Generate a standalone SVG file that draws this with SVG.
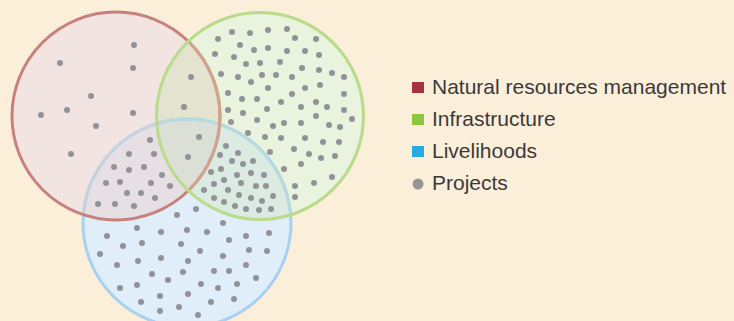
<svg xmlns="http://www.w3.org/2000/svg" width="734" height="321" viewBox="0 0 734 321">
<style>
.dot{fill:#929399}
.lbl{font-family:"Liberation Sans",Arial,sans-serif;font-size:21px;fill:#3a3a3a}
.ring{fill:none;stroke-width:3}
</style>
<defs>
<clipPath id="cR"><circle cx="116" cy="116" r="104"/></clipPath>
<clipPath id="cG"><circle cx="260" cy="116" r="103.5"/></clipPath>
<clipPath id="cB"><circle cx="187" cy="223" r="104"/></clipPath>
</defs>
<rect width="734" height="321" fill="#FBEFDA"/>
<g id="venn">
<g id="region-fills">
<circle cx="116" cy="116" r="104" fill="#F2E4E1"/>
<circle cx="260" cy="116" r="103.5" fill="#EAF3DE"/>
<circle cx="187" cy="223" r="104" fill="#E0EEF9"/>
<g clip-path="url(#cR)"><circle cx="260" cy="116" r="103.5" fill="#E3E3CF"/></g>
<g clip-path="url(#cR)"><circle cx="187" cy="223" r="104" fill="#E6E0E4"/></g>
<g clip-path="url(#cG)"><circle cx="187" cy="223" r="104" fill="#DBEBE1"/></g>
<g clip-path="url(#cR)"><g clip-path="url(#cG)"><circle cx="187" cy="223" r="104" fill="#DCDFD6"/></g></g>
</g>
<g id="livelihoods"><circle class="ring" cx="187" cy="223" r="104" stroke="#A7D1EE"/>
<g clip-path="url(#cR)"><circle class="ring" cx="187" cy="223" r="104" stroke="#C8D2DF"/></g>
<g clip-path="url(#cG)"><circle class="ring" cx="187" cy="223" r="104" stroke="#B5DADF"/></g>
</g>
<g id="natural-resources-management"><circle class="ring" cx="116" cy="116" r="104" stroke="#C6817C"/>
<g clip-path="url(#cG)"><circle class="ring" cx="116" cy="116" r="104" stroke="#CFA58E"/></g>
</g>
<g id="infrastructure"><circle class="ring" cx="260" cy="116" r="103.5" stroke="#BADB8C"/></g>
</g>
<g id="projects">
<circle class="dot" cx="134" cy="45" r="3"/><circle class="dot" cx="60" cy="63" r="3"/><circle class="dot" cx="133" cy="68" r="3"/><circle class="dot" cx="91" cy="96" r="3"/><circle class="dot" cx="67" cy="110" r="3"/><circle class="dot" cx="41" cy="115" r="3"/><circle class="dot" cx="133" cy="113" r="3"/><circle class="dot" cx="96" cy="126" r="3"/><circle class="dot" cx="71" cy="154" r="3"/>
<circle class="dot" cx="191" cy="77" r="3"/><circle class="dot" cx="184" cy="107" r="3"/><circle class="dot" cx="199" cy="137" r="3"/>
<circle class="dot" cx="150" cy="140" r="3"/><circle class="dot" cx="129" cy="154" r="3"/><circle class="dot" cx="154" cy="154" r="3"/><circle class="dot" cx="114" cy="167" r="3"/><circle class="dot" cx="129" cy="170" r="3"/><circle class="dot" cx="144" cy="167" r="3"/><circle class="dot" cx="162" cy="175" r="3"/><circle class="dot" cx="106" cy="183" r="3"/><circle class="dot" cx="120" cy="182" r="3"/><circle class="dot" cx="151" cy="183" r="3"/><circle class="dot" cx="170" cy="186" r="3"/><circle class="dot" cx="127" cy="193" r="3"/><circle class="dot" cx="141" cy="193" r="3"/><circle class="dot" cx="155" cy="198" r="3"/><circle class="dot" cx="98" cy="204" r="3"/><circle class="dot" cx="115" cy="204" r="3"/><circle class="dot" cx="134" cy="206" r="3"/>
<circle class="dot" cx="188" cy="157" r="3"/>
<circle class="dot" cx="218" cy="39" r="3"/><circle class="dot" cx="232" cy="32" r="3"/><circle class="dot" cx="250" cy="33" r="3"/><circle class="dot" cx="268" cy="30" r="3"/><circle class="dot" cx="287" cy="29" r="3"/><circle class="dot" cx="295" cy="38" r="3"/><circle class="dot" cx="316" cy="39" r="3"/>
<circle class="dot" cx="215" cy="54" r="3"/><circle class="dot" cx="234" cy="57" r="3"/><circle class="dot" cx="240" cy="45" r="3"/><circle class="dot" cx="254" cy="50" r="3"/><circle class="dot" cx="268" cy="48" r="3"/><circle class="dot" cx="287" cy="51" r="3"/><circle class="dot" cx="305" cy="51" r="3"/><circle class="dot" cx="319" cy="55" r="3"/>
<circle class="dot" cx="246" cy="64" r="3"/><circle class="dot" cx="260" cy="63" r="3"/><circle class="dot" cx="280" cy="62" r="3"/><circle class="dot" cx="302" cy="68" r="3"/><circle class="dot" cx="319" cy="70" r="3"/><circle class="dot" cx="332" cy="73" r="3"/><circle class="dot" cx="344" cy="77" r="3"/>
<circle class="dot" cx="221" cy="74" r="3"/><circle class="dot" cx="238" cy="77" r="3"/><circle class="dot" cx="251" cy="82" r="3"/><circle class="dot" cx="262" cy="75" r="3"/><circle class="dot" cx="276" cy="75" r="3"/><circle class="dot" cx="292" cy="77" r="3"/><circle class="dot" cx="320" cy="85" r="3"/>
<circle class="dot" cx="268" cy="88" r="3"/><circle class="dot" cx="305" cy="88" r="3"/>
<circle class="dot" cx="228" cy="93" r="3"/><circle class="dot" cx="242" cy="99" r="3"/><circle class="dot" cx="257" cy="99" r="3"/><circle class="dot" cx="292" cy="94" r="3"/><circle class="dot" cx="344" cy="94" r="3"/>
<circle class="dot" cx="281" cy="102" r="3"/><circle class="dot" cx="316" cy="102" r="3"/><circle class="dot" cx="327" cy="107" r="3"/><circle class="dot" cx="301" cy="107" r="3"/><circle class="dot" cx="267" cy="109" r="3"/><circle class="dot" cx="228" cy="110" r="3"/><circle class="dot" cx="243" cy="113" r="3"/><circle class="dot" cx="344" cy="110" r="3"/>
<circle class="dot" cx="316" cy="116" r="3"/><circle class="dot" cx="231" cy="122" r="3"/><circle class="dot" cx="257" cy="120" r="3"/><circle class="dot" cx="273" cy="126" r="3"/><circle class="dot" cx="284" cy="123" r="3"/><circle class="dot" cx="301" cy="123" r="3"/><circle class="dot" cx="329" cy="125" r="3"/><circle class="dot" cx="340" cy="127" r="3"/><circle class="dot" cx="352" cy="119" r="3"/>
<circle class="dot" cx="248" cy="133" r="3"/><circle class="dot" cx="265" cy="137" r="3"/><circle class="dot" cx="281" cy="138" r="3"/><circle class="dot" cx="305" cy="138" r="3"/><circle class="dot" cx="323" cy="142" r="3"/><circle class="dot" cx="339" cy="142" r="3"/>
<circle class="dot" cx="270" cy="152" r="3"/><circle class="dot" cx="294" cy="149" r="3"/><circle class="dot" cx="309" cy="154" r="3"/><circle class="dot" cx="321" cy="158" r="3"/><circle class="dot" cx="335" cy="156" r="3"/>
<circle class="dot" cx="301" cy="164" r="3"/><circle class="dot" cx="284" cy="169" r="3"/><circle class="dot" cx="314" cy="183" r="3"/><circle class="dot" cx="332" cy="177" r="3"/><circle class="dot" cx="295" cy="186" r="3"/><circle class="dot" cx="295" cy="197" r="3"/>
<circle class="dot" cx="226" cy="146" r="3"/><circle class="dot" cx="220" cy="155" r="3"/><circle class="dot" cx="238" cy="153" r="3"/><circle class="dot" cx="232" cy="161" r="3"/><circle class="dot" cx="243" cy="164" r="3"/><circle class="dot" cx="253" cy="161" r="3"/><circle class="dot" cx="211" cy="172" r="3"/><circle class="dot" cx="221" cy="169" r="3"/><circle class="dot" cx="237" cy="175" r="3"/><circle class="dot" cx="251" cy="173" r="3"/><circle class="dot" cx="264" cy="175" r="3"/><circle class="dot" cx="214" cy="184" r="3"/><circle class="dot" cx="224" cy="180" r="3"/><circle class="dot" cx="241" cy="183" r="3"/><circle class="dot" cx="256" cy="186" r="3"/><circle class="dot" cx="266" cy="186" r="3"/><circle class="dot" cx="204" cy="190" r="3"/><circle class="dot" cx="228" cy="190" r="3"/><circle class="dot" cx="239" cy="195" r="3"/><circle class="dot" cx="273" cy="196" r="3"/><circle class="dot" cx="214" cy="198" r="3"/><circle class="dot" cx="224" cy="202" r="3"/><circle class="dot" cx="235" cy="206" r="3"/><circle class="dot" cx="251" cy="198" r="3"/><circle class="dot" cx="262" cy="201" r="3"/><circle class="dot" cx="246" cy="209" r="3"/><circle class="dot" cx="259" cy="210" r="3"/><circle class="dot" cx="271" cy="209" r="3"/>
<circle class="dot" cx="196" cy="209" r="3"/><circle class="dot" cx="177" cy="215" r="3"/><circle class="dot" cx="223" cy="223" r="3"/><circle class="dot" cx="137" cy="228" r="3"/><circle class="dot" cx="161" cy="232" r="3"/><circle class="dot" cx="187" cy="230" r="3"/><circle class="dot" cx="207" cy="232" r="3"/><circle class="dot" cx="107" cy="236" r="3"/><circle class="dot" cx="246" cy="236" r="3"/><circle class="dot" cx="269" cy="233" r="3"/><circle class="dot" cx="229" cy="240" r="3"/><circle class="dot" cx="123" cy="246" r="3"/><circle class="dot" cx="142" cy="243" r="3"/><circle class="dot" cx="181" cy="244" r="3"/><circle class="dot" cx="200" cy="251" r="3"/><circle class="dot" cx="249" cy="250" r="3"/><circle class="dot" cx="267" cy="251" r="3"/><circle class="dot" cx="100" cy="254" r="3"/><circle class="dot" cx="223" cy="256" r="3"/><circle class="dot" cx="138" cy="261" r="3"/><circle class="dot" cx="161" cy="258" r="3"/><circle class="dot" cx="188" cy="261" r="3"/><circle class="dot" cx="117" cy="265" r="3"/><circle class="dot" cx="246" cy="265" r="3"/><circle class="dot" cx="152" cy="274" r="3"/><circle class="dot" cx="183" cy="272" r="3"/><circle class="dot" cx="214" cy="271" r="3"/><circle class="dot" cx="229" cy="271" r="3"/><circle class="dot" cx="168" cy="280" r="3"/><circle class="dot" cx="256" cy="278" r="3"/><circle class="dot" cx="120" cy="288" r="3"/><circle class="dot" cx="137" cy="285" r="3"/><circle class="dot" cx="201" cy="284" r="3"/><circle class="dot" cx="218" cy="288" r="3"/><circle class="dot" cx="237" cy="284" r="3"/><circle class="dot" cx="160" cy="296" r="3"/><circle class="dot" cx="188" cy="294" r="3"/><circle class="dot" cx="141" cy="302" r="3"/><circle class="dot" cx="234" cy="299" r="3"/><circle class="dot" cx="211" cy="302" r="3"/><circle class="dot" cx="179" cy="307" r="3"/><circle class="dot" cx="160" cy="311" r="3"/><circle class="dot" cx="198" cy="315" r="3"/>
</g>
<g id="legend">
<g id="legend-nrm"><rect x="412" y="82" width="12" height="11" fill="#A5343F"/><text class="lbl" x="432" y="94">Natural resources management</text></g>
<g id="legend-infra"><rect x="412" y="114" width="12" height="11" fill="#8DC63F"/><text class="lbl" x="432" y="126">Infrastructure</text></g>
<g id="legend-livelihoods"><rect x="412" y="146" width="12" height="11" fill="#27AAE1"/><text class="lbl" x="432" y="158">Livelihoods</text></g>
<g id="legend-projects"><circle cx="418" cy="184" r="5.5" fill="#939598"/><text class="lbl" x="432" y="190">Projects</text></g>
</g>
</svg>
